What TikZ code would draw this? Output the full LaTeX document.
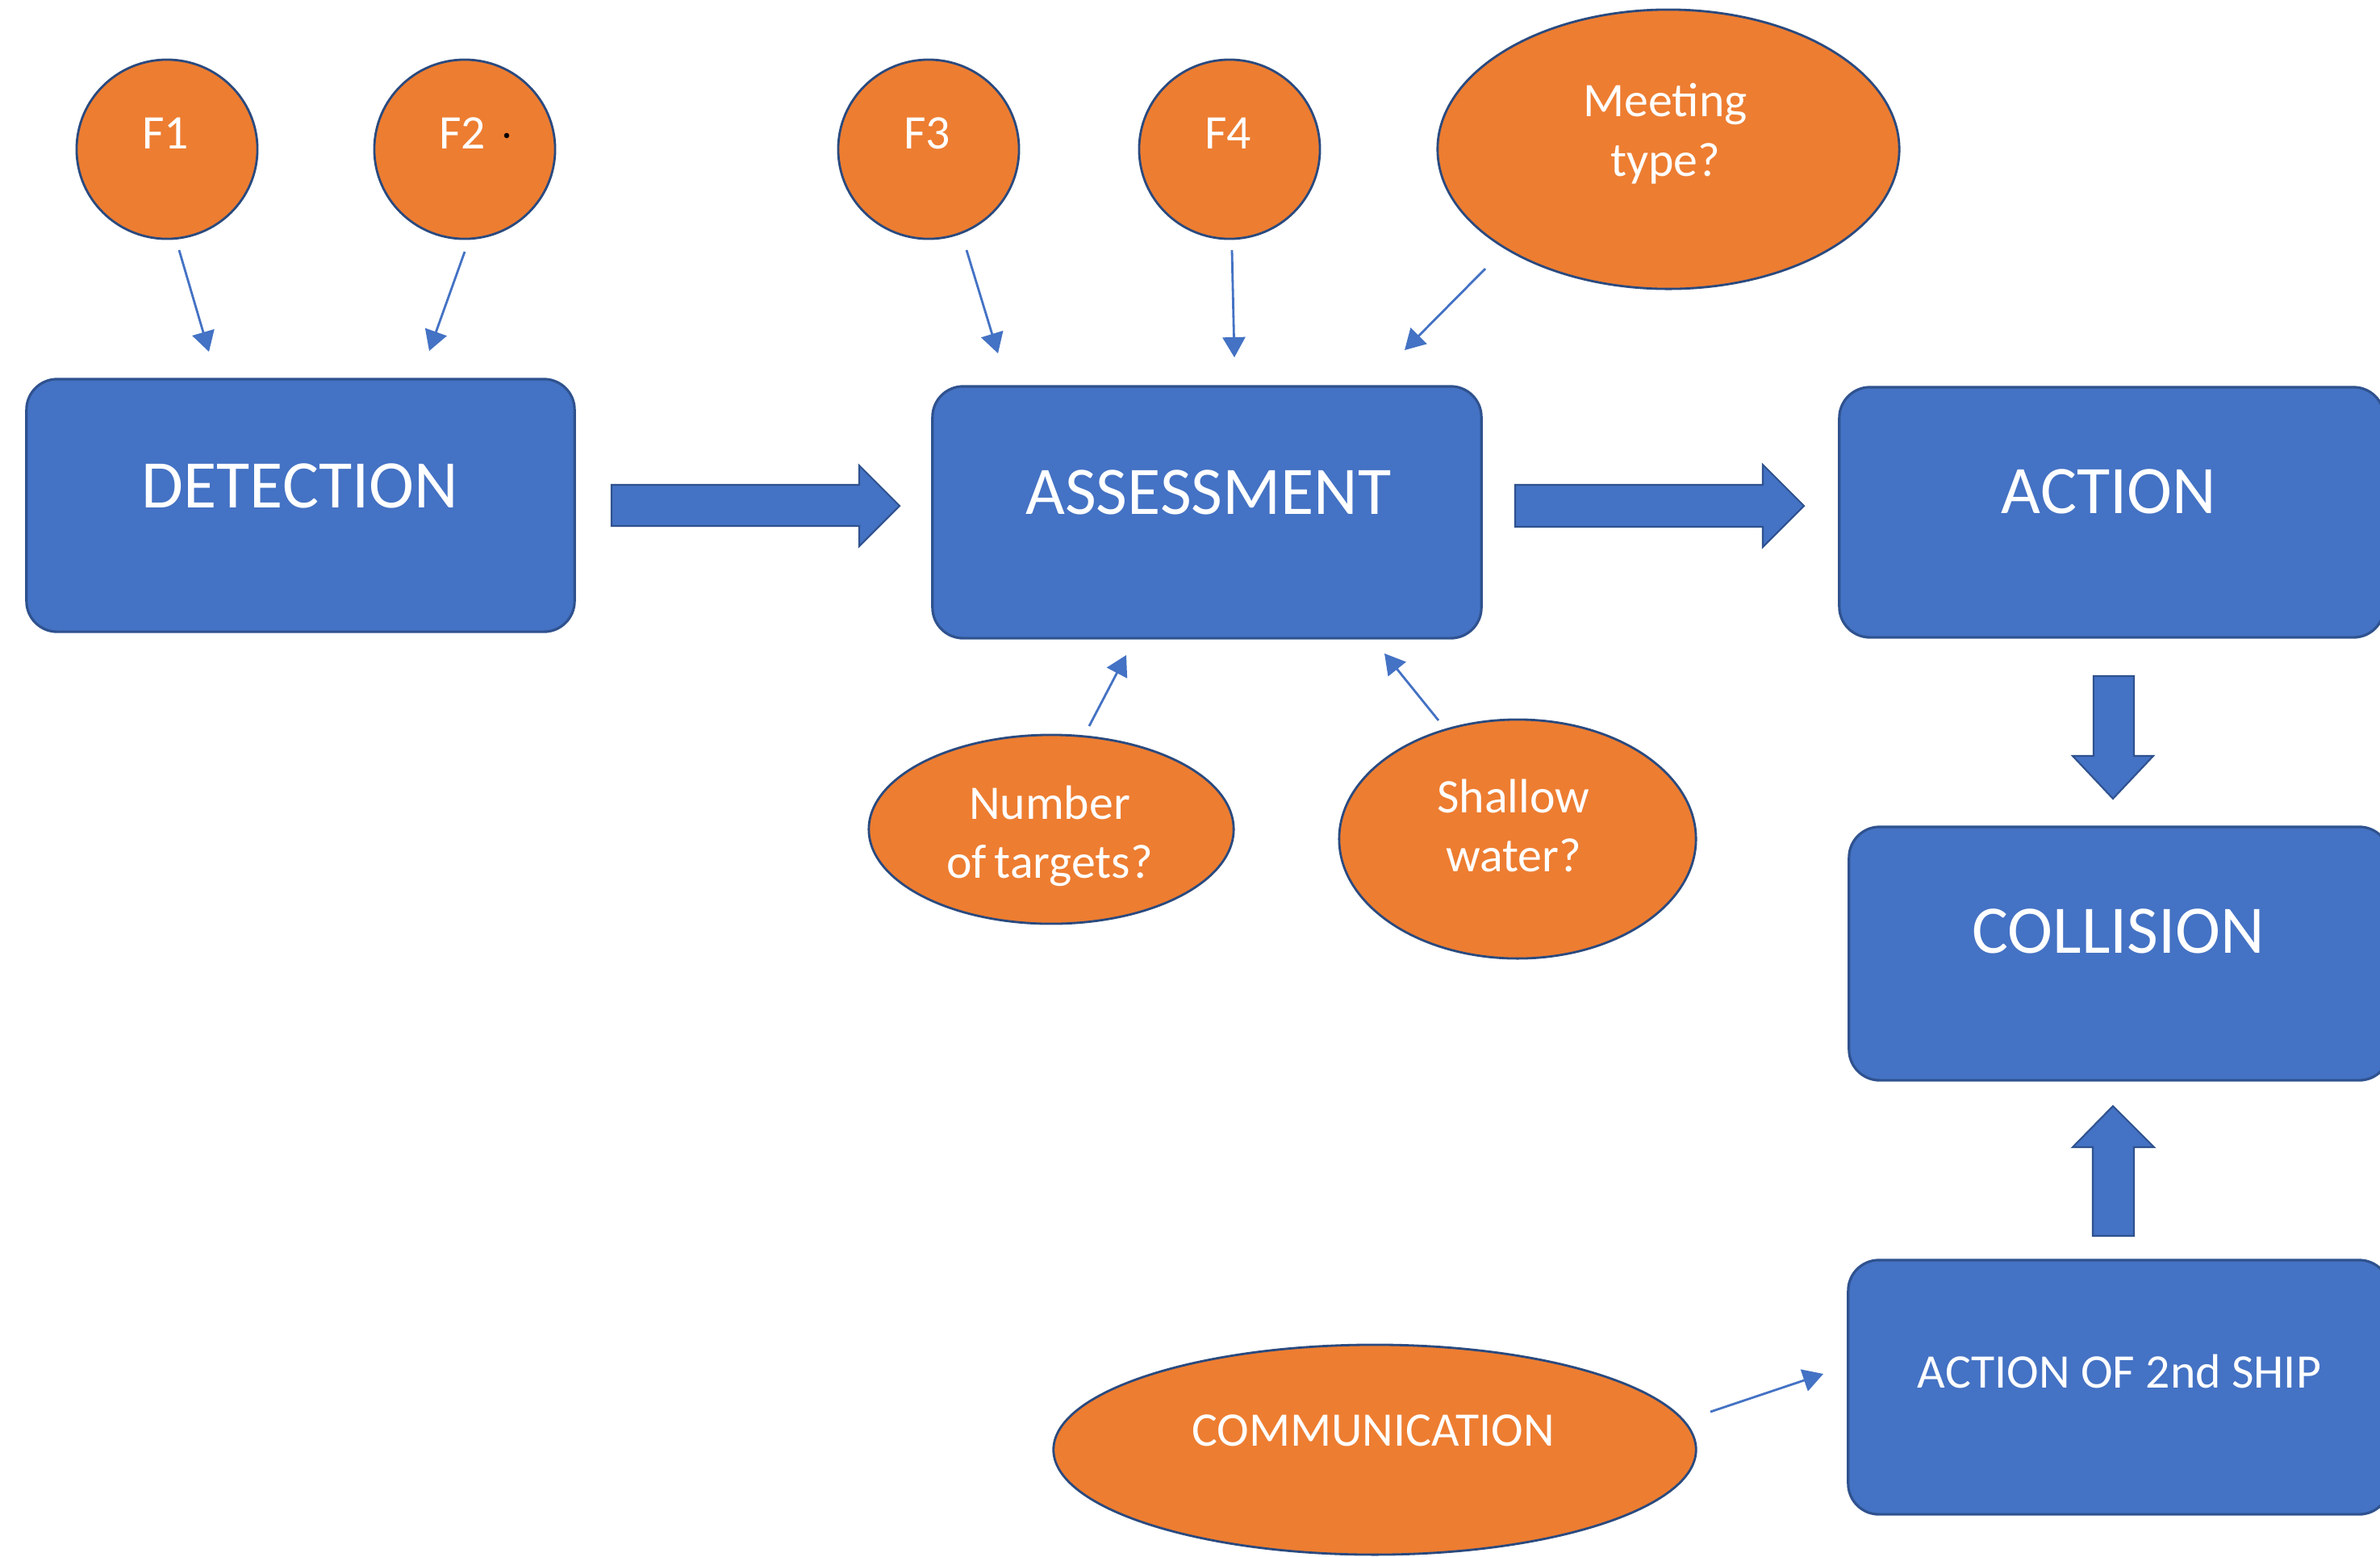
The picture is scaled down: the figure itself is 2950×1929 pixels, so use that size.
\documentclass[tikz,border=0pt]{standalone}
\usepackage{fontspec}
\setmainfont{Carlito}
\usetikzlibrary{shapes.geometric,arrows.meta}
\definecolor{boxblue}{HTML}{4472C4}
\definecolor{edgeblue}{HTML}{2F528F}
\definecolor{factor}{HTML}{ED7D31}
\definecolor{rimnavy}{HTML}{2A4A7F}
\begin{document}
\begin{tikzpicture}[x=0.01cm,y=-0.01cm,
  stage/.style={draw=edgeblue,line width=0.9pt,fill=boxblue,rounded corners=0.38cm,inner sep=0pt},
  stagetext/.style={text=white,anchor=base,font=\fontsize{24}{28}\selectfont,inner sep=0pt},
  smalltext/.style={text=white,anchor=base,font=\fontsize{17}{20}\selectfont,inner sep=0pt},
  factorshape/.style={ellipse,draw=rimnavy,line width=0.8pt,fill=factor,inner sep=0pt},
  feed/.style={draw=boxblue,line width=0.8pt,-{Triangle[length=2.5mm,width=2.8mm]}},
  bigarrow/.style={draw=edgeblue,line width=0.6pt,fill=boxblue}]
\clip (0,0) rectangle (2950,1929);
\fill[white] (0,0) rectangle (2950,1929);

% process stages
\node[stage,minimum width=6.79cm,minimum height=3.13cm] (det) at (372.5,626.5) {};
\node[stage,minimum width=6.80cm,minimum height=3.12cm] (ass) at (1496,635) {};
\node[stage,minimum width=6.75cm,minimum height=3.10cm] (act) at (2617.5,635) {};
\node[stage,minimum width=6.70cm,minimum height=3.14cm] (col) at (2627,1182) {};
\node[stage,minimum width=6.71cm,minimum height=3.15cm] (ship) at (2626.5,1719.5) {};

\node[stagetext] (detT) at (372,629) {DETECTION};
\node[stagetext] (assT) at (1498,637) {ASSESSMENT};
\node[stagetext] (actT) at (2614,636) {ACTION};
\node[stagetext] (colT) at (2626,1181) {COLLISION};
\node[smalltext] (shipT) at (2627,1720) {ACTION OF 2nd SHIP};

% influencing factors
\node[factorshape,minimum width=2.24cm,minimum height=2.22cm] (F1) at (207,185) {};
\node[factorshape,minimum width=2.24cm,minimum height=2.22cm] (F2) at (576,185) {};
\node[factorshape,minimum width=2.24cm,minimum height=2.22cm] (F3) at (1151,185) {};
\node[factorshape,minimum width=2.24cm,minimum height=2.22cm] (F4) at (1524,185) {};
\node[factorshape,minimum width=5.72cm,minimum height=3.46cm] (meet) at (2068,185) {};
\node[factorshape,minimum width=4.52cm,minimum height=2.34cm] (num) at (1303,1028) {};
\node[factorshape,minimum width=4.42cm,minimum height=2.96cm] (shal) at (1881,1040) {};
\node[factorshape,minimum width=7.96cm,minimum height=2.60cm] (comm) at (1704,1797) {};

\node[smalltext] (F1T) at (205,184) {F1};
\node[smalltext] (F2T) at (573,184) {F2};
\node[circle,fill=black,inner sep=0pt,minimum size=0.065cm] (F2dot) at (628,168) {};
\node[smalltext] (F3T) at (1149,184) {F3};
\node[smalltext] (F4T) at (1522,184) {F4};
\node[smalltext] (meetA) at (2064,144) {Meeting};
\node[smalltext] (meetB) at (2064,218) {type?};
\node[smalltext] (numA) at (1301,1015) {Number};
\node[smalltext] (numB) at (1301,1088) {of\,targets?};
\node[smalltext] (shalA) at (1876,1007) {Shallow};
\node[smalltext] (shalB) at (1876,1080) {water?};
\node[smalltext] (commT) at (1702,1792) {COMMUNICATION};

% thin feed arrows (ends kept clear of the shapes)
\coordinate (f1s) at (222,310);   \coordinate (f1e) at (259,436);
\coordinate (f2s) at (576,312);   \coordinate (f2e) at (532,435);
\coordinate (f3s) at (1198,310);  \coordinate (f3e) at (1237,438);
\coordinate (f4s) at (1527,310);  \coordinate (f4e) at (1530,443);
\coordinate (ms)  at (1841,333);  \coordinate (me)  at (1741,434);
\coordinate (ns)  at (1350,900);  \coordinate (ne)  at (1396,812);
\coordinate (ss)  at (1783,893);  \coordinate (se)  at (1716,810);
\coordinate (cs)  at (2120,1750); \coordinate (ce)  at (2260,1703);
\draw[feed] (f1s) -- (f1e);
\draw[feed] (f2s) -- (f2e);
\draw[feed] (f3s) -- (f3e);
\draw[feed] (f4s) -- (f4e);
\draw[feed] (ms) -- (me);
\draw[feed] (ns) -- (ne);
\draw[feed] (ss) -- (se);
\draw[feed] (cs) -- (ce);

% block arrows between stages
\draw[bigarrow] (758,601) -- (1065,601) -- (1065,577) -- (1115,627) -- (1065,677) -- (1065,652) -- (758,652) -- cycle;
\draw[bigarrow] (1878,601) -- (2185,601) -- (2185,576) -- (2236,627) -- (2185,678) -- (2185,653) -- (1878,653) -- cycle;
\draw[bigarrow] (2595,838) -- (2645,838) -- (2645,937) -- (2669,937) -- (2619,990) -- (2569,937) -- (2595,937) -- cycle;
\draw[bigarrow] (2594,1532) -- (2645,1532) -- (2645,1422) -- (2670,1422) -- (2619,1371) -- (2569,1422) -- (2594,1422) -- cycle;
\end{tikzpicture}
\end{document}
